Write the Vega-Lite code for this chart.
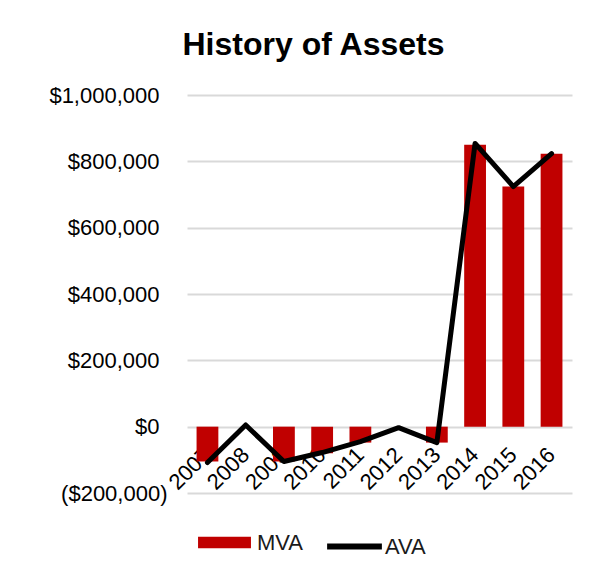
{
  "$schema": "https://vega.github.io/schema/vega-lite/v6.json",
  "autosize": "none",
  "width": 385,
  "height": 398,
  "padding": {"left": 187, "top": 95, "right": 31, "bottom": 86},
  "background": "white",
  "title": {
    "text": "History of Assets",
    "font": "Liberation Sans",
    "fontSize": 32,
    "fontWeight": "bold",
    "color": "#000000",
    "anchor": "middle",
    "frame": "group",
    "dx": -66,
    "offset": 22
  },
  "data": {
    "values": [
      {"year": "2007", "MVA": -105000, "AVA": -108000, "m": "MVA", "a": "AVA"},
      {"year": "2008", "MVA": 0, "AVA": 5000, "m": "MVA", "a": "AVA"},
      {"year": "2009", "MVA": -105000, "AVA": -105000, "m": "MVA", "a": "AVA"},
      {"year": "2010", "MVA": -80000, "AVA": -78000, "m": "MVA", "a": "AVA"},
      {"year": "2011", "MVA": -48000, "AVA": -45000, "m": "MVA", "a": "AVA"},
      {"year": "2012", "MVA": 0, "AVA": -3000, "m": "MVA", "a": "AVA"},
      {"year": "2013", "MVA": -48000, "AVA": -48000, "m": "MVA", "a": "AVA"},
      {"year": "2014", "MVA": 850000, "AVA": 854000, "m": "MVA", "a": "AVA"},
      {"year": "2015", "MVA": 724000, "AVA": 724000, "m": "MVA", "a": "AVA"},
      {"year": "2016", "MVA": 823000, "AVA": 823000, "m": "MVA", "a": "AVA"}
    ]
  },
  "encoding": {
    "x": {
      "field": "year",
      "type": "ordinal",
      "scale": {"paddingInner": 0.43, "paddingOuter": 0.25},
      "axis": {
        "title": null,
        "orient": "bottom",
        "offset": -66,
        "domain": false,
        "ticks": false,
        "grid": false,
        "labelAngle": -45,
        "labelAlign": "right",
        "labelBaseline": "middle",
        "labelPadding": 24,
        "labelFont": "Liberation Sans",
        "labelFontSize": 22,
        "labelColor": "#000000"
      }
    }
  },
  "layer": [
    {
      "mark": {"type": "bar"},
      "encoding": {
        "y": {
          "field": "MVA",
          "type": "quantitative",
          "scale": {"domain": [-200000, 1000000], "nice": false},
          "axis": {
            "title": null,
            "values": [-200000, 0, 200000, 400000, 600000, 800000, 1000000],
            "labelExpr": "datum.value < 0 ? '(' + format(-datum.value, '$,') + ')' : format(datum.value, '$,')",
            "domain": false,
            "ticks": false,
            "grid": true,
            "gridColor": "#D9D9D9",
            "gridWidth": 2,
            "labelPadding": {"condition": {"test": "datum.value < 0", "value": 20}, "value": 28},
            "labelFont": "Liberation Sans",
            "labelFontSize": 22,
            "labelColor": "#000000"
          }
        },
        "fill": {
          "field": "m",
          "type": "nominal",
          "scale": {"domain": ["MVA"], "range": ["#C00000"]},
          "legend": {
            "title": null,
            "orient": "none",
            "legendX": 11,
            "legendY": 421,
            "symbolType": "M-1,-0.22H1V0.22H-1Z",
            "symbolSize": 2800,
            "symbolStrokeWidth": 0,
            "labelFont": "Liberation Sans",
            "labelFontSize": 22,
            "labelColor": "#1A1A1A",
            "labelOffset": 6
          }
        }
      }
    },
    {
      "mark": {"type": "line", "strokeWidth": 5, "strokeJoin": "round", "strokeCap": "round"},
      "encoding": {
        "y": {"field": "AVA", "type": "quantitative"},
        "stroke": {
          "field": "a",
          "type": "nominal",
          "scale": {"domain": ["AVA"], "range": ["#000000"]},
          "legend": {
            "title": null,
            "orient": "none",
            "legendX": 137,
            "legendY": 421,
            "symbolType": "stroke",
            "symbolSize": 3000,
            "symbolStrokeWidth": 6,
            "labelFont": "Liberation Sans",
            "labelFontSize": 22,
            "labelColor": "#1A1A1A",
            "labelOffset": 0
          }
        }
      }
    }
  ],
  "config": {"view": {"stroke": null}}
}
